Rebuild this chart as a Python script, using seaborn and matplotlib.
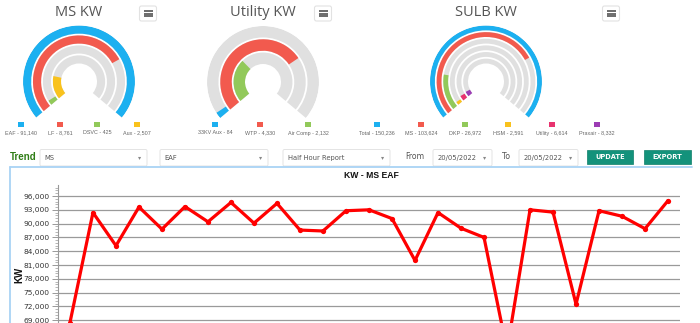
import numpy as np
import pandas as pd
import matplotlib
matplotlib.use("Agg")
import matplotlib.pyplot as plt
import seaborn as sns
from matplotlib.patches import Rectangle, FancyBboxPatch
from matplotlib.ticker import FuncFormatter, MultipleLocator

# ---------------- data ----------------
ms_labels = ["EAF", "LF", "DSVC", "Aux"]
ms_values = [91140, 8761, 425, 2507]
ms_fill = [1.0, 0.735, 0.03, 0.20]
ms_colors = ["#1cb0f0", "#f25a4e", "#92c95a", "#f9c21d"]

util_labels = ["33KV Aux", "WTP", "Air Comp"]
util_values = [84, 4330, 2132]
util_fill = [0.025, 0.715, 0.33]
util_colors = ["#1cb0f0", "#f25a4e", "#92c95a"]

sulb_labels = ["Total", "MS", "DKP", "HSM", "Utility", "Praxair"]
sulb_values = [150236, 103624, 26972, 2591, 6614, 8332]
sulb_fill = [1.0, 0.735, 0.19, 0.02, 0.04, 0.05]
sulb_colors = ["#1cb0f0", "#f25a4e", "#92c95a", "#f9c21d", "#e8336f", "#9c3cb4"]

trend_kw = [68500, 92400, 85200, 93600, 88800, 93700, 90400, 94600, 90100,
            94400, 88600, 88400, 92800, 93000, 91100, 82000, 92400, 89000,
            87000, 62500, 93000, 92500, 72500, 92800, 91600, 88900, 95000]
y_ticks = list(range(60000, 96001, 3000))

# ---------------- figure ----------------
sns.set_theme(style="white")
plt.rcParams["font.family"] = ["DejaVu Sans"]

W, H = 700, 323
fig = plt.figure(figsize=(7.0, 3.23), dpi=100)
fig.patch.set_facecolor("white")

bg = fig.add_axes([0, 0, 1, 1])
bg.set_xlim(0, W)
bg.set_ylim(H, 0)
bg.axis("off")
bg.patch.set_alpha(0)

TXT = "#555555"


def gauge(cx, cy, fills, colors, r_out=56, r_in=18, gap=1.8, start=220, sweep=260):
    rect = [(cx - r_out) / W, (H - (cy + r_out)) / H, 2 * r_out / W, 2 * r_out / H]
    ax = fig.add_axes(rect, projection="polar")
    ax.set_theta_offset(np.deg2rad(start))
    ax.set_theta_direction(-1)
    ax.set_ylim(0, r_out)
    n = len(fills)
    th = (r_out - r_in - gap * (n - 1)) / n
    for i, (f, c) in enumerate(zip(fills, colors)):
        bottom = r_out - i * (th + gap) - th
        ax.bar(0, th, width=np.deg2rad(sweep), bottom=bottom, align="edge",
               color="#e0e0e0", linewidth=0)
        ax.bar(0, th, width=np.deg2rad(sweep) * f, bottom=bottom, align="edge",
               color=c, linewidth=0)
    ax.axis("off")
    ax.patch.set_alpha(0)


def hamburger(cx, cy):
    bg.add_patch(FancyBboxPatch((cx - 8.5, cy - 7.5), 17, 15,
                                boxstyle="round,pad=0,rounding_size=2",
                                fc="white", ec="#e2e2e2", lw=0.8))
    for dy in (-2.6, 0, 2.6):
        bg.plot([cx - 4.5, cx + 4.5], [cy + dy, cy + dy], color="#444444", lw=1.1,
                solid_capstyle="butt")


def legend(xs, labels, values, colors):
    for x, lab, v, c in zip(xs, labels, values, colors):
        bg.add_patch(Rectangle((x - 2.6, 122), 5.2, 5.2, fc=c, ec="none"))
        bg.text(x, 133, f"{lab} - {v:,}", fontsize=3.9, color="#666666",
                ha="center", va="center", family="Liberation Sans")


# titles
for cx, t in [(79, "MS KW"), (263, "Utility KW"), (486, "SULB KW")]:
    bg.text(cx, 12.5, t, fontsize=10.5, color=TXT, ha="center", va="center",
            family="Open Sans")
for cx in (148, 323, 611):
    hamburger(cx, 13.5)

gauge(79, 81.5, ms_fill, ms_colors)
gauge(263, 82, util_fill, util_colors)
gauge(486, 81.5, sulb_fill, sulb_colors)

legend([21, 60, 97, 137], ms_labels, ms_values, ms_colors)
legend([215, 260, 308], util_labels, util_values, util_colors)
legend([377, 421, 465, 508, 552, 597], sulb_labels, sulb_values, sulb_colors)

# controls row
bg.text(10, 157, "Trend", fontsize=7, color="#2f7d16", fontweight="bold",
        ha="left", va="center", family="Liberation Sans")


def dropdown(x0, x1, text):
    bg.add_patch(FancyBboxPatch((x0, 149.5), x1 - x0, 16.5,
                                boxstyle="round,pad=0,rounding_size=1.5",
                                fc="white", ec="#e4e4e4", lw=0.7))
    bg.text(x0 + 4.5, 158, text, fontsize=4.9, color="#555555", ha="left",
            va="center")
    bg.text(x1 - 7, 157.5, "\u25be", fontsize=4.5, color="#888888", ha="center",
            va="center")


dropdown(40, 147, "MS")
dropdown(160, 268, "EAF")
dropdown(283, 390, "Half Hour Report")
bg.text(405, 156.5, "From", fontsize=5.6, color=TXT, ha="left", va="center")
dropdown(433, 492, "20/05/2022")
bg.text(502, 156.5, "To", fontsize=5.6, color=TXT, ha="left", va="center")
dropdown(519, 578, "20/05/2022")

for x0, x1, t in [(587, 633, "UPDATE"), (644, 691, "EXPORT")]:
    bg.add_patch(Rectangle((x0, 150), x1 - x0, 14, fc="#13927b", ec="#0f7f6a",
                           lw=0.5))
    bg.text((x0 + x1) / 2, 157.2, t, fontsize=4.8, color="white",
            fontweight="bold", ha="center", va="center")

# chart panel border
bg.plot([10, 10], [167, 323], color="#a9d3f5", lw=1.3)
bg.plot([10, 692], [167, 167], color="#a9d3f5", lw=1.3)
bg.text(371, 175.5, "KW - MS EAF", fontsize=6.2, fontweight="bold",
        color="#111111", ha="center", va="center", family="Liberation Sans")

# ---------------- trend chart ----------------
df = pd.DataFrame({"idx": np.arange(len(trend_kw)), "kw": trend_kw})
top_px, bot_px = 185.0, 196 + (96000 - 60000) / 217.2
ax = fig.add_axes([58 / W, (H - bot_px) / H, 622 / W, (bot_px - top_px) / H])
ax.patch.set_alpha(0)
sns.lineplot(data=df, x="idx", y="kw", ax=ax, color="#ff0000", lw=2.3,
             marker="o", markersize=3.8, markeredgewidth=0)
ax.set_xlim(-0.52, len(trend_kw) - 0.48)
ax.set_ylim(60000, 96000 + (196 - 185) * 217.2)
ax.set_yticks(y_ticks)
ax.yaxis.set_major_formatter(FuncFormatter(lambda v, p: f"{int(v):,}"))
ax.yaxis.set_minor_locator(MultipleLocator(600))
ax.grid(axis="y", color="#9a9a9a", lw=0.9)
ax.grid(axis="x", visible=False)
for s in ("top", "right", "bottom"):
    ax.spines[s].set_visible(False)
ax.spines["left"].set_color("#999999")
ax.spines["left"].set_linewidth(0.8)
ax.tick_params(axis="y", which="major", left=True, length=4, width=0.7,
               color="#999999", labelsize=5.4, labelcolor="#333333", pad=2)
ax.tick_params(axis="y", which="minor", left=True, length=2, width=0.6,
               color="#aaaaaa")
ax.set_xticks([])
ax.set_xlabel("")
ax.set_ylabel("")
bg.text(19, 275, "KW", fontsize=7, fontweight="bold", rotation=90,
        ha="center", va="center", color="#111111", family="Liberation Sans")

fig.savefig("out.png", dpi=100, facecolor="white")
